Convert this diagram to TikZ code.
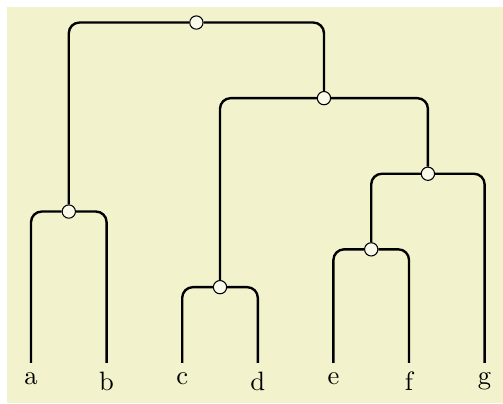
\documentclass[tikz,border=0pt]{standalone}
\usepackage{tikz}
\definecolor{fondo}{RGB}{242,243,204}
\tikzset{
  hoja/.style={anchor=north, font=\normalsize},
  union/.style={circle, draw=black, fill=fondo!40!white, minimum size=5pt, inner sep=0pt, line width=0.4pt},
  rama/.style={line width=0.9pt, rounded corners=4pt}
}

\begin{document}
\begin{tikzpicture}
        \useasboundingbox (-0.41,-0.533) rectangle (6.243,4.798);
        \fill [fondo] (-0.317,-0.533) rectangle (6.243,4.705);

        % Hojas (abajo)
        \node (a) [hoja] at (0,0) {a};
        \node (b) [hoja] at (1,0) {b};
        \node (c) [hoja] at (2,0) {c};
        \node (d) [hoja] at (3,0) {d};
        \node (e) [hoja] at (4,0) {e};
        \node (f) [hoja] at (5,0) {f};
        \node (g) [hoja] at (6,0) {g};

        % Uniones
        \node (ab) [union] at (0.5,2) {};
        \node (cd) [union] at (2.5,1) {};
        \node (ef) [union] at (4.5,1.5) {};
        \node (efg) [union] at (5.25,2.5) {};
        \node (cdefg) [union] at (3.875,3.5) {};
        \node (raiz) [union] at (2.1875,4.5) {};

        \draw [rama] (ab.west) -| (a.north);
        \draw [rama] (ab.east) -| (b.north);
        \draw [rama] (cd.west) -| (c.north);
        \draw [rama] (cd.east) -| (d.north);
        \draw [rama] (ef.west) -| (e.north);
        \draw [rama] (ef.east) -| (f.north);

        \draw [rama] (efg.west) -| (ef.north);
        \draw [rama] (efg.east) -| (g.north);
        \draw [rama] (cdefg.west) -| (cd.north);
        \draw [rama] (cdefg.east) -| (efg.north);

        % Raiz arriba
        \draw [rama] (raiz.west) -| (ab.north);
        \draw [rama] (raiz.east) -| (cdefg.north);

    \end{tikzpicture}
\end{document}
